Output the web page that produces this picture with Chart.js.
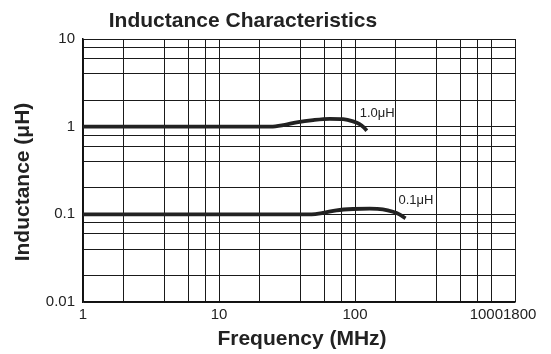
<!DOCTYPE html>
<html>
<head>
<meta charset="utf-8">
<script src="https://cdn.jsdelivr.net/npm/chart.js@4/dist/chart.umd.min.js"></script>
<style>
  body { margin: 0; background: #fff; }
  canvas { display: block; }
</style>
</head>
<body>
<canvas id="chart" width="551" height="354"></canvas>
<script>
/* DATA */
const freq1 = [1, 10, 24, 29.7, 37.2, 49.2, 65.3, 81.7, 96.7, 108, 116, 122];
const ind1  = [1.0, 1.0, 1.0, 1.04, 1.12, 1.19, 1.23, 1.22, 1.15, 1.07, 0.98, 0.90];

const freq2 = [1, 10, 48, 58.3, 73, 96.7, 128, 160, 190, 212, 235];
const ind2  = [0.1, 0.1, 0.1, 0.104, 0.111, 0.115, 0.116, 0.114, 0.107, 0.100, 0.090];

const seriesNames = ["1.0\u03bcH", "0.1\u03bcH"];

// grid lines of the log paper
const xGridValues = [1, 2, 4, 6, 8, 10, 20, 40, 60, 80, 100, 200, 400, 600, 800, 1000, 1500];
const yGridValues = [0.01, 0.02, 0.04, 0.06, 0.08, 0.1, 0.2, 0.4, 0.6, 0.8, 1, 2, 4, 6, 8, 10];

// axis ends and labelled ticks (the right edge is printed as 1800)
const xAxisMin = 1;
const xAxisMax = 1500;
const xTickValues = [1, 10, 100, 1000, 1500];
const xTickLabels = ["1", "10", "100", "1000", "1800"];
const yTickValues = [0.01, 0.1, 1, 10];
const yTickLabels = ["0.01", "0.1", "1", "10"];

const FONT = "'Liberation Sans', Arial, Helvetica, sans-serif";
const INK = "#222";

/* TEXT PLUGIN */
const textPlugin = {
  id: "texts",
  afterDraw(chart) {
    const ctx = chart.ctx;
    const x = chart.scales.x;
    const y = chart.scales.y;
    ctx.save();
    ctx.fillStyle = INK;

    // title
    ctx.font = "bold 21px " + FONT;
    ctx.textAlign = "center";
    ctx.textBaseline = "alphabetic";
    ctx.fillText("Inductance Characteristics", 243, 27);

    // x axis title
    ctx.fillText("Frequency (MHz)", (x.left + x.right) / 2 + 3, 345);

    // y axis title
    ctx.save();
    ctx.translate(23, 182);
    ctx.rotate(-Math.PI / 2);
    ctx.textBaseline = "middle";
    ctx.fillText("Inductance (\u03bcH)", 0, 0);
    ctx.restore();

    // x tick labels, the last two pushed apart
    ctx.font = "15px " + FONT;
    const px = xTickValues.map(v => x.getPixelForValue(v));
    const n = xTickValues.length;
    xTickLabels.forEach((label, i) => {
      let lx = px[i];
      ctx.textAlign = "center";
      if (i === n - 2) { lx = (px[i] + px[i + 1]) / 2; ctx.textAlign = "right"; }
      if (i === n - 1) { lx = (px[i - 1] + px[i]) / 2; ctx.textAlign = "left"; }
      ctx.fillText(label, lx, 319);
    });

    // curve labels near the end of each curve
    ctx.font = "13px " + FONT;
    ctx.textAlign = "left";
    const ends = [[freq1, ind1], [freq2, ind2]];
    ends.forEach((e, i) => {
      const fx = e[0][e[0].length - 1];
      const fy = e[1][e[1].length - 1];
      ctx.fillText(seriesNames[i], x.getPixelForValue(fx) - 7, y.getPixelForValue(fy) - 14);
    });

    ctx.restore();
  }
};

/* CHART */
const toPoints = (xs, ys) => xs.map((v, i) => ({ x: v, y: ys[i] }));

new Chart(document.getElementById("chart"), {
  type: "line",
  data: {
    datasets: [
      {
        label: seriesNames[0],
        data: toPoints(freq1, ind1),
        borderColor: INK,
        borderWidth: 3.8,
        pointRadius: 0,
        cubicInterpolationMode: "monotone",
        fill: false
      },
      {
        label: seriesNames[1],
        data: toPoints(freq2, ind2),
        borderColor: INK,
        borderWidth: 3.8,
        pointRadius: 0,
        cubicInterpolationMode: "monotone",
        fill: false
      }
    ]
  },
  options: {
    responsive: false,
    devicePixelRatio: 1,
    animation: false,
    layout: { padding: { top: 39, right: 36, bottom: 0, left: 0 } },
    plugins: {
      legend: { display: false },
      tooltip: { enabled: false },
      title: { display: false }
    },
    scales: {
      x: {
        type: "logarithmic",
        min: xAxisMin,
        max: xAxisMax,
        afterBuildTicks: s => { s.ticks = xGridValues.map(v => ({ value: v })); },
        afterFit: s => { s.height = 52; },
        ticks: { display: false, autoSkip: false },
        grid: { color: "#1a1a1a", lineWidth: 1, drawTicks: false },
        border: { color: "#111", width: 1.5 }
      },
      y: {
        type: "logarithmic",
        min: 0.01,
        max: 10,
        afterBuildTicks: s => { s.ticks = yGridValues.map(v => ({ value: v })); },
        afterFit: s => { s.width = 83; },
        ticks: {
          autoSkip: false,
          padding: 8,
          color: INK,
          font: { family: FONT, size: 15 },
          callback: v => {
            const i = yTickValues.indexOf(v);
            return i >= 0 ? yTickLabels[i] : "";
          }
        },
        grid: { color: "#1a1a1a", lineWidth: 1, drawTicks: false },
        border: { color: "#111", width: 1.5 }
      }
    }
  },
  plugins: [textPlugin]
});
</script>
</body>
</html>
